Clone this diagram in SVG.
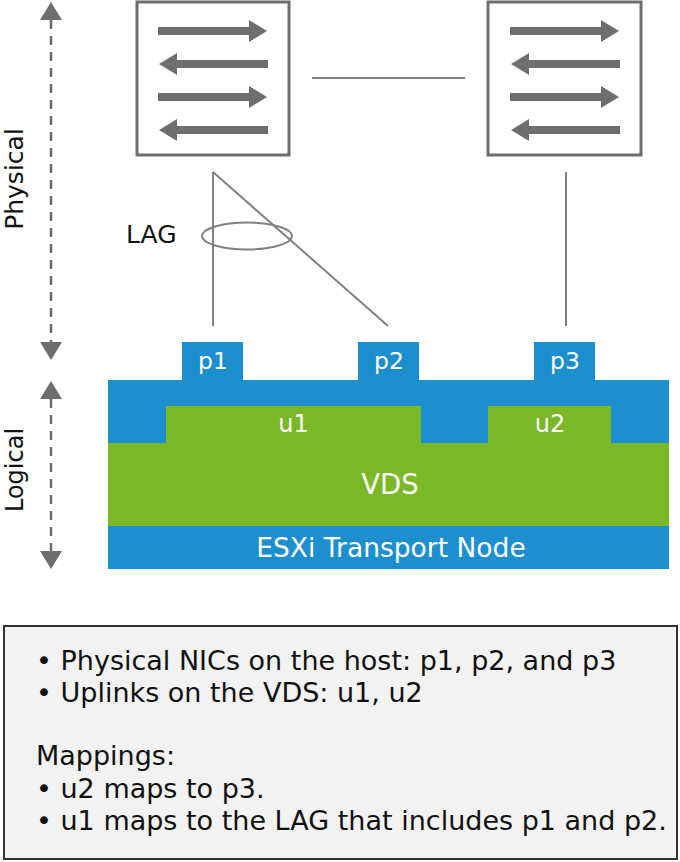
<svg xmlns="http://www.w3.org/2000/svg" xmlns:xlink="http://www.w3.org/1999/xlink" width="680" height="862" viewBox="0 0 680 862">
<style>
.sw{fill:#ffffff;stroke:#6d6e70;stroke-width:3}
.ar{fill:#6d6e70}
.ln{stroke:#808080;stroke-width:2;fill:none}
.dash{stroke:#6d6e70;stroke-width:2.5;stroke-dasharray:9 7;fill:none}
.head{fill:#6d6e70}
.blue{fill:#1d8fcf}
.green{fill:#7ab829}
.wt{fill:#ffffff;font-family:"DejaVu Sans",Verdana,sans-serif;text-anchor:middle}
.bt{fill:#111111;font-family:"DejaVu Sans",Verdana,sans-serif}
</style>
<defs>
<path id="arR" d="M0,-4 H91 V-11 L109,0 L91,11 V4 H0 Z"/>
<path id="arL" d="M0,0 L18,-11 V-4 H109 V4 H18 V11 Z"/>
</defs>

<g id="switch1">
<rect class="sw" x="137" y="2" width="152" height="153"/>
<use xlink:href="#arR" href="#arR" class="ar" x="158" y="31"/>
<use xlink:href="#arL" href="#arL" class="ar" x="159" y="64"/>
<use xlink:href="#arR" href="#arR" class="ar" x="158" y="97"/>
<use xlink:href="#arL" href="#arL" class="ar" x="159" y="130"/>
</g>

<g id="switch2">
<rect class="sw" x="488" y="2" width="153" height="153"/>
<use xlink:href="#arR" href="#arR" class="ar" x="510" y="31"/>
<use xlink:href="#arL" href="#arL" class="ar" x="511" y="64"/>
<use xlink:href="#arR" href="#arR" class="ar" x="510" y="97"/>
<use xlink:href="#arL" href="#arL" class="ar" x="511" y="130"/>
</g>

<g id="connectors">
<line class="ln" x1="312" y1="78" x2="465" y2="78"/>
<line class="ln" x1="213" y1="172" x2="213" y2="326"/>
<line class="ln" x1="213" y1="172" x2="388" y2="326"/>
<line class="ln" x1="566" y1="172" x2="566" y2="326"/>
<ellipse class="ln" cx="247" cy="236" rx="45" ry="13.5" stroke-width="2.5"/>
</g>

<g id="lag-label">
<text class="bt" x="126" y="243" font-size="25">LAG</text>
</g>

<g id="axis-physical">
<line class="dash" x1="51" y1="20" x2="51" y2="342"/>
<path class="head" d="M51,2 L62,20 L40,20 Z"/>
<path class="head" d="M51,360 L62,342 L40,342 Z"/>
<text class="bt" font-size="25" text-anchor="middle" transform="translate(23,179) rotate(-90)">Physical</text>
</g>

<g id="axis-logical">
<line class="dash" x1="51" y1="399" x2="51" y2="551"/>
<path class="head" d="M51,381 L62,399 L40,399 Z"/>
<path class="head" d="M51,569 L62,551 L40,551 Z"/>
<text class="bt" font-size="24" text-anchor="middle" transform="translate(23,470) rotate(-90)">Logical</text>
</g>

<g id="esxi">
<rect class="blue" x="108" y="380" width="561" height="189"/>
<text class="wt" x="391" y="557" font-size="26.5">ESXi Transport Node</text>
</g>

<g id="vds">
<rect class="green" x="108" y="443" width="561" height="83"/>
<text class="wt" x="390" y="494" font-size="27.5">VDS</text>
</g>

<g id="u1">
<rect class="green" x="166" y="406" width="255" height="37"/>
<text class="wt" x="293.5" y="432" font-size="24">u1</text>
</g>

<g id="u2">
<rect class="green" x="488" y="406" width="123" height="37"/>
<text class="wt" x="550" y="432" font-size="24">u2</text>
</g>

<g id="p1">
<rect class="blue" x="182" y="342" width="61" height="38"/>
<text class="wt" x="213" y="369" font-size="23.5">p1</text>
</g>

<g id="p2">
<rect class="blue" x="358" y="342" width="61" height="38"/>
<text class="wt" x="389" y="369" font-size="23.5">p2</text>
</g>

<g id="p3">
<rect class="blue" x="534" y="342" width="61" height="38"/>
<text class="wt" x="565" y="369" font-size="23.5">p3</text>
</g>

<g id="notes">
<rect x="4" y="626" width="673" height="233" fill="#f2f2f2" stroke="#333333" stroke-width="2"/>
<text class="bt" font-size="27" x="36" y="670">• Physical NICs on the host: p1, p2, and p3</text>
<text class="bt" font-size="27" x="36" y="702">• Uplinks on the VDS: u1, u2</text>
<text class="bt" font-size="27" x="36" y="765">Mappings:</text>
<text class="bt" font-size="27" x="36" y="798">• u2 maps to p3.</text>
<text class="bt" font-size="27" x="36" y="830">• u1 maps to the LAG that includes p1 and p2.</text>
</g>
</svg>
